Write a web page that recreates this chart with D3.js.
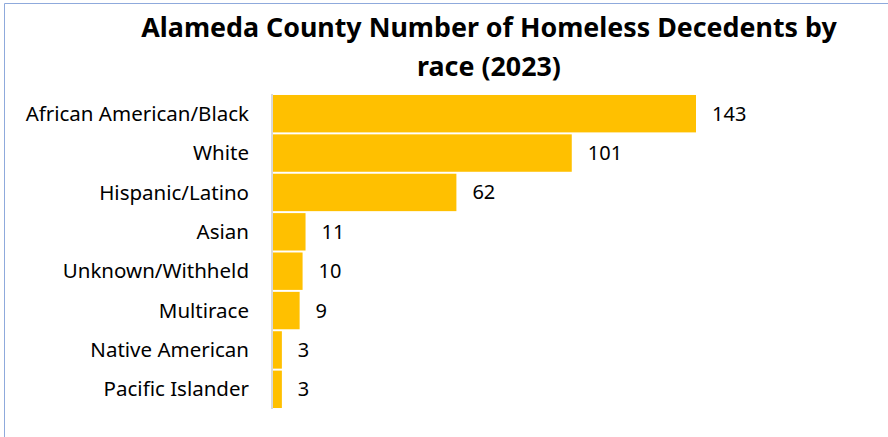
<!DOCTYPE html>
<html>
<head>
<meta charset="utf-8">
<script src="https://cdn.jsdelivr.net/npm/d3@7"></script>
<style>
  html, body { margin: 0; padding: 0; background: #ffffff; }
  svg { display: block; }
</style>
</head>
<body>
<div id="chart"></div>
<script>
"use strict";

const categories = [
  "African American/Black",
  "White",
  "Hispanic/Latino",
  "Asian",
  "Unknown/Withheld",
  "Multirace",
  "Native American",
  "Pacific Islander",
];
const decedents = [143, 101, 62, 11, 10, 9, 3, 3];
const titleLines = ["Alameda County Number of Homeless Decedents by", "race (2023)"];

const width = 888;
const height = 437;
const FONT = "'Noto Sans', 'Open Sans', sans-serif";

const svg = d3
  .select("#chart")
  .append("svg")
  .attr("width", width)
  .attr("height", height)
  .attr("viewBox", `0 0 ${width} ${height}`);

// chart frame (only top and left edges are visible in the crop)
svg
  .append("path")
  .attr("d", `M4.5,${height} V3.5 H${width}`)
  .attr("fill", "none")
  .attr("stroke", "#8faadc")
  .attr("stroke-width", 1);

svg
  .append("g")
  .selectAll("text")
  .data(titleLines)
  .join("text")
  .attr("x", 489)
  .attr("y", (d, i) => 37 + i * 39)
  .attr("text-anchor", "middle")
  .attr("font-family", FONT)
  .attr("font-size", 26.8)
  .attr("font-weight", 700)
  .attr("fill", "#000000")
  .text((d) => d);

const x = d3.scaleLinear().domain([0, d3.max(decedents)]).range([273, 696]);
const y = d3.scaleBand().domain(categories).range([94, 409]).paddingInner(0.05).paddingOuter(0.025);

const rows = categories.map((name, i) => ({ name, value: decedents[i] }));

svg
  .append("g")
  .selectAll("rect")
  .data(rows)
  .join("rect")
  .attr("x", x(0))
  .attr("y", (d) => y(d.name))
  .attr("width", (d) => x(d.value) - x(0))
  .attr("height", y.bandwidth())
  .attr("fill", "#ffc000");

// category axis line
svg
  .append("line")
  .attr("x1", x(0) - 1)
  .attr("x2", x(0) - 1)
  .attr("y1", y.range()[0])
  .attr("y2", y.range()[1])
  .attr("stroke", "#d9d9d9")
  .attr("stroke-width", 2);

svg
  .append("g")
  .selectAll("text")
  .data(rows)
  .join("text")
  .attr("x", 249)
  .attr("y", (d) => y(d.name) + y.bandwidth() / 2)
  .attr("dy", "0.35em")
  .attr("text-anchor", "end")
  .attr("font-family", FONT)
  .attr("font-size", 20.5)
  .attr("fill", "#000000")
  .text((d) => d.name);

svg
  .append("g")
  .selectAll("text")
  .data(rows)
  .join("text")
  .attr("x", (d) => x(d.value) + 16)
  .attr("y", (d) => y(d.name) + y.bandwidth() / 2)
  .attr("dy", "0.35em")
  .attr("text-anchor", "start")
  .attr("font-family", FONT)
  .attr("font-size", 20)
  .attr("fill", "#000000")
  .text((d) => d.value);
</script>
</body>
</html>
